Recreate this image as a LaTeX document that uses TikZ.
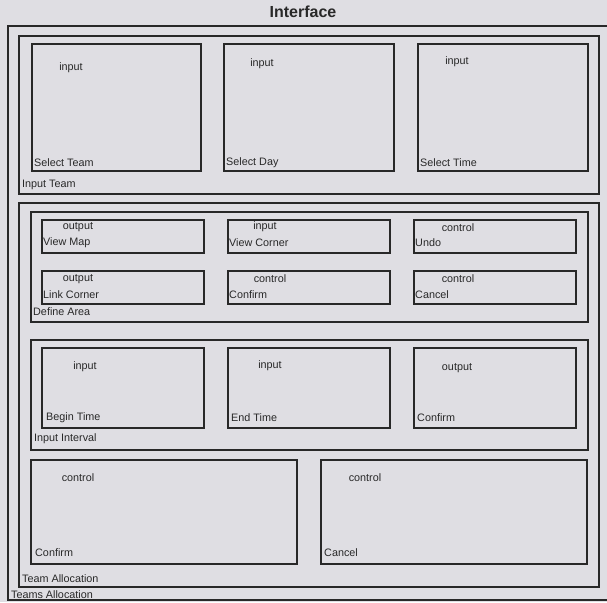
\documentclass[tikz,border=0pt]{standalone}
\usepackage{fontspec}
\setmainfont{Liberation Sans}
\usetikzlibrary{calc,positioning}
\definecolor{paper}{RGB}{223,222,227}
\definecolor{ink}{RGB}{40,40,40}
\tikzset{
    gui diagram/.style = {x=1pt, y=-1pt, text=ink},
    panel/.style       = {draw=ink, line width=1.8pt, anchor=north west,
                          inner sep=0pt},
    widget/.style      = {panel, minimum width=162pt, minimum height=33pt},
    field/.style       = {panel, minimum width=162pt, minimum height=80pt},
    tag/.style         = {inner sep=0pt, font=\fontsize{10.8}{12}\selectfont},
    caption/.style     = {tag, anchor=west},
    kind/.style        = {tag, anchor=center},
    title/.style       = {inner sep=0pt, font=\fontsize{16}{18}\bfseries}
}
\begin{document}
\begin{tikzpicture}[gui diagram]

\fill[paper] (0,0) rectangle (607,602);
\useasboundingbox (0,0) rectangle (607,602);

\node[title] (iface) at (303,12) {Interface};

% Outermost frame
\node[panel, minimum width=604pt, minimum height=574pt] (teams) at (7,25) {};
\node[caption] at ($(teams.south west)+(4,-6)$) {Teams Allocation};

% Team input: three tall selectors
\node[panel, minimum width=580pt, minimum height=158pt] (inteam) at (18,35) {};
\node[caption] at ($(inteam.south west)+(4,-10)$) {Input Team};

\node[panel, minimum width=169pt, minimum height=127pt] (selteam) at (31,43) {};
\node[panel, minimum width=170pt, minimum height=127pt] (selday) at (223,43) {};
\node[panel, minimum width=170pt, minimum height=127pt] (seltime) at (417,43) {};
\node[kind] at ($(selteam.north west)+(40,25)$) {input};
\node[kind] at ($(selday.north west)+(39,21)$) {input};
\node[kind] at ($(seltime.north west)+(40,19)$) {input};
\node[caption] at ($(selteam.south west)+(3,-9)$) {Select Team};
\node[caption] at ($(selday.south west)+(3,-9)$) {Select Day};
\node[caption] at ($(seltime.south west)+(3,-9)$) {Select Time};

% Allocation panel
\node[panel, minimum width=580pt, minimum height=384pt] (alloc) at (18,202) {};
\node[caption] at ($(alloc.south west)+(4,-9)$) {Team Allocation};

% Area definition: two rows of buttons
\node[panel, minimum width=557pt, minimum height=110pt] (area) at (30,211) {};
\node[caption] at ($(area.south west)+(3,-11)$) {Define Area};

\node[widget] (viewmap) at (41,219) {};
\node[widget] (viewcorner) at (227,219) {};
\node[widget] (undo) at (413,219) {};
\node[widget] (linkcorner) at (41,270) {};
\node[widget] (areaok) at (227,270) {};
\node[widget] (areacancel) at (413,270) {};

\node[kind] at ($(viewmap.north west)+(37,8)$) {output};
\node[kind] at ($(viewcorner.north west)+(38,8)$) {input};
\node[kind] at ($(undo.north west)+(45,9)$) {control};
\node[kind] at ($(linkcorner.north west)+(37,9)$) {output};
\node[kind] at ($(areaok.north west)+(43,9)$) {control};
\node[kind] at ($(areacancel.north west)+(45,9)$) {control};
\node[caption] at ($(viewmap.south west)+(2,-11)$) {View Map};
\node[caption] at ($(viewcorner.south west)+(2,-11)$) {View Corner};
\node[caption] at ($(undo.south west)+(2,-11)$) {Undo};
\node[caption] at ($(linkcorner.south west)+(2,-10)$) {Link Corner};
\node[caption] at ($(areaok.south west)+(2,-10)$) {Confirm};
\node[caption] at ($(areacancel.south west)+(2,-10)$) {Cancel};

% Interval input
\node[panel, minimum width=557pt, minimum height=110pt] (interval) at (30,339) {};
\node[caption] at ($(interval.south west)+(4,-12)$) {Input Interval};

\node[field] (tbegin) at (41,347) {};
\node[field] (tend) at (227,347) {};
\node[field] (intok) at (413,347) {};
\node[kind] at ($(tbegin.north west)+(44,20)$) {input};
\node[kind] at ($(tend.north west)+(43,19)$) {input};
\node[kind] at ($(intok.north west)+(44,21)$) {output};
\node[caption] at ($(tbegin.south west)+(5,-11)$) {Begin Time};
\node[caption] at ($(tend.south west)+(4,-11)$) {End Time};
\node[caption] at ($(intok.south west)+(4,-11)$) {Confirm};

% Final confirm / cancel
\node[panel, minimum width=266pt, minimum height=104pt] (allocok) at (30,459) {};
\node[panel, minimum width=266pt, minimum height=104pt] (alloccancel) at (320,459) {};
\node[kind] at ($(allocok.north west)+(48,19)$) {control};
\node[kind] at ($(alloccancel.north west)+(45,19)$) {control};
\node[caption] at ($(allocok.south west)+(5,-12)$) {Confirm};
\node[caption] at ($(alloccancel.south west)+(4,-12)$) {Cancel};

\end{tikzpicture}
\end{document}
